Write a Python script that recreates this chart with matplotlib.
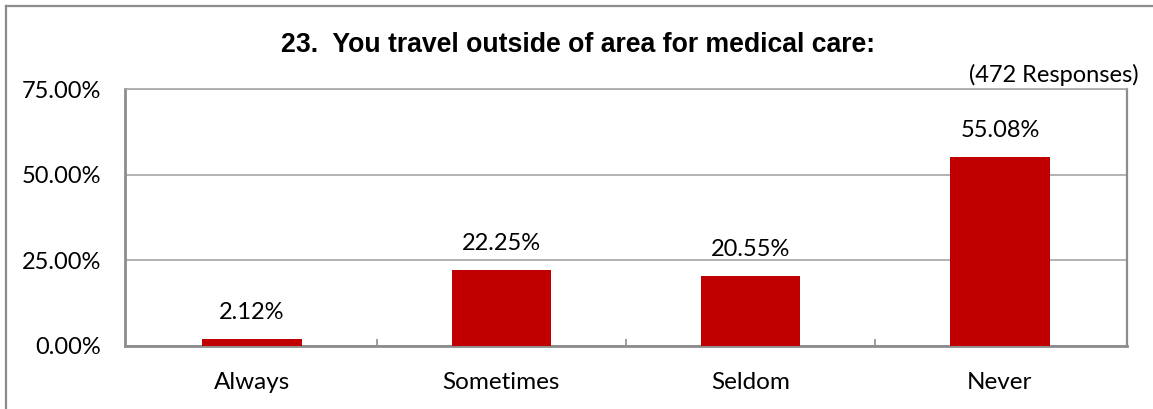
import matplotlib
matplotlib.use("Agg")
import matplotlib.pyplot as plt
from matplotlib.lines import Line2D
from matplotlib.ticker import FuncFormatter, FixedLocator

categories = ["Always", "Sometimes", "Seldom", "Never"]
values = [2.12, 22.25, 20.55, 55.08]
yticks = [0, 25, 50, 75]
title = "23.  You travel outside of area for medical care:"
note = "(472 Responses)"

W, H = 1153, 409
fig = plt.figure(figsize=(W / 100, H / 100), dpi=100)
fig.patch.set_facecolor("white")

# outer border (left and top visible)
fig.add_artist(Line2D([5.5 / W, 5.5 / W], [-0.1, 1 - 5.5 / H], transform=fig.transFigure,
                      color="#8c8c8c", lw=1.6))
fig.add_artist(Line2D([5.5 / W, 1.1], [1 - 5.5 / H, 1 - 5.5 / H], transform=fig.transFigure,
                      color="#8c8c8c", lw=1.6))

ax = fig.add_axes([125 / W, 63 / H, (1127 - 125) / W, (346 - 89) / H])
x = list(range(len(categories)))
bars = ax.bar(x, values, width=0.4, color="#C00000", zorder=3)
ax.set_xlim(-0.51, len(categories) - 0.49)
ax.set_ylim(0, 75)
ax.set_yticks(yticks)
ax.yaxis.set_major_formatter(FuncFormatter(lambda v, p: f"{v:.2f}%"))
ax.set_xticks(x)
ax.set_xticklabels(categories)
ax.xaxis.set_minor_locator(FixedLocator([0.5, 1.5, 2.5]))

FS = 17
lab_font = dict(family=["Lato", "DejaVu Sans"], size=FS)
for t in ax.get_yticklabels():
    t.set_fontfamily(["Lato", "DejaVu Sans"])
    t.set_fontsize(FS)
    t.set_color("black")
for t in ax.get_xticklabels():
    t.set_fontfamily(["Lato", "DejaVu Sans"])
    t.set_fontsize(17.5)
    t.set_color("black")

ax.tick_params(axis="x", which="major", length=0, pad=19)
ax.tick_params(axis="x", which="minor", length=5, direction="in", color="#8c8c8c", width=1.2)
ax.tick_params(axis="y", length=0, pad=17)

ax.grid(axis="y", color="#a6a6a6", lw=1.2, zorder=0)
for s in ax.spines.values():
    s.set_color("#8c8c8c")
    s.set_linewidth(2)
ax.spines["top"].set_color("#a6a6a6")
ax.spines["top"].set_linewidth(1.2)
ax.spines["right"].set_linewidth(1.6)

for b, v in zip(bars, values):
    ax.annotate(f"{v:.2f}%", (b.get_x() + b.get_width() / 2, v), xytext=(0, 16),
                textcoords="offset pixels", ha="center", va="bottom", **lab_font)

fig.text(578 / W, 1 - 45 / H, title, ha="center", va="center",
         family=["Liberation Sans", "DejaVu Sans"], weight="bold", size=19.2)
fig.text(1139 / W, 1 - 75 / H, note, ha="right", va="center", **lab_font)

fig.savefig("out.png", dpi=100)
